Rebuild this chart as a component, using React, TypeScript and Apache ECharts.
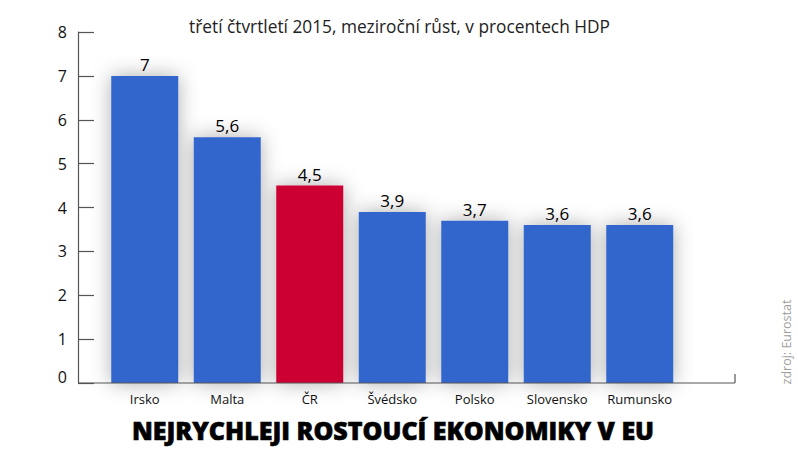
import React, { useEffect, useRef } from "react";
import * as echarts from "echarts";

const categories = ["Irsko", "Malta", "ČR", "Švédsko", "Polsko", "Slovensko", "Rumunsko"];
const values = [7, 5.6, 4.5, 3.9, 3.7, 3.6, 3.6];
const highlighted = "ČR";
const yTicks = [0, 1, 2, 3, 4, 5, 6, 7, 8];
const subtitle = "třetí čtvrtletí 2015, meziroční růst, v procentech HDP";
const headline = "NEJRYCHLEJI ROSTOUCÍ EKONOMIKY V EU";
const source = "zdroj: Eurostat";

const FONT = "'Open Sans', 'Noto Sans', sans-serif";
const AXIS = "#555555";

export default function App() {
  const ref = useRef<HTMLDivElement>(null);
  useEffect(() => {
    const chart = echarts.init(ref.current!, undefined, { renderer: "svg" });
    chart.setOption({
      animation: false,
      backgroundColor: "#ffffff",
      grid: { left: 103.5, width: 577.5, top: 32, height: 351 },
      xAxis: {
        type: "category",
        data: categories,
        axisLine: { show: false },
        axisTick: { show: false },
        axisLabel: { color: "#111", fontFamily: FONT, fontSize: 13, fontWeight: 500, margin: 9, interval: 0 },
      },
      yAxis: {
        type: "value",
        min: yTicks[0],
        max: yTicks[yTicks.length - 1],
        interval: 1,
        offset: 25.5,
        splitLine: { show: false },
        axisLine: { show: true, lineStyle: { color: AXIS, width: 1.2 } },
        axisTick: { show: true, inside: true, length: 16, lineStyle: { color: AXIS, width: 1.2 } },
        axisLabel: {
          color: "#111",
          fontFamily: FONT,
          fontSize: 16,
          margin: 11,
          formatter: (v: number) => (v === 0 ? "{zero|0}" : String(v)),
          rich: { zero: { fontFamily: FONT, fontSize: 16, color: "#111", padding: [0, 0, 12, 0] } },
        },
      },
      series: [
        {
          type: "bar",
          barWidth: 67,
          z: 3,
          data: categories.map((c, i) => ({
            value: values[i],
            itemStyle: { color: c === highlighted ? "#cc0033" : "#3366cc" },
          })),
          itemStyle: { shadowBlur: 20, shadowColor: "rgba(0,0,0,0.32)" },
          label: {
            show: true,
            position: "top",
            distance: 3,
            color: "#000",
            fontFamily: FONT,
            fontSize: 17,
            formatter: (p: any) => String(p.value).replace(".", ","),
          },
        },
      ],
      graphic: [
        { type: "line", z: 10, shape: { x1: 78, y1: 383, x2: 735, y2: 383 }, style: { stroke: AXIS, lineWidth: 1.2 } },
        { type: "line", z: 10, shape: { x1: 735, y1: 374, x2: 735, y2: 383 }, style: { stroke: AXIS, lineWidth: 1.2 } },
        {
          type: "text",
          x: 399.5,
          y: 26,
          style: { text: subtitle, fill: "#222", font: `17.3px ${FONT}`, align: "center", verticalAlign: "middle" },
        },
        {
          type: "text",
          x: 393,
          y: 430,
          style: {
            text: headline,
            fill: "#000",
            stroke: "#000",
            lineWidth: 0.6,
            font: `800 25px ${FONT}`,
            align: "center",
            verticalAlign: "middle",
            shadowBlur: 4,
            shadowColor: "rgba(0,0,0,0.5)",
            shadowOffsetX: 1,
            shadowOffsetY: 1,
          },
        },
        {
          type: "text",
          x: 786,
          y: 342,
          rotation: Math.PI / 2,
          style: { text: source, fill: "#a0a0a0", font: `12.5px ${FONT}`, align: "center", verticalAlign: "middle" },
        },
      ],
    });
    return () => chart.dispose();
  }, []);
  return <div ref={ref} style={{ position: "absolute", left: 0, top: 0, width: 798, height: 450 }} />;
}
